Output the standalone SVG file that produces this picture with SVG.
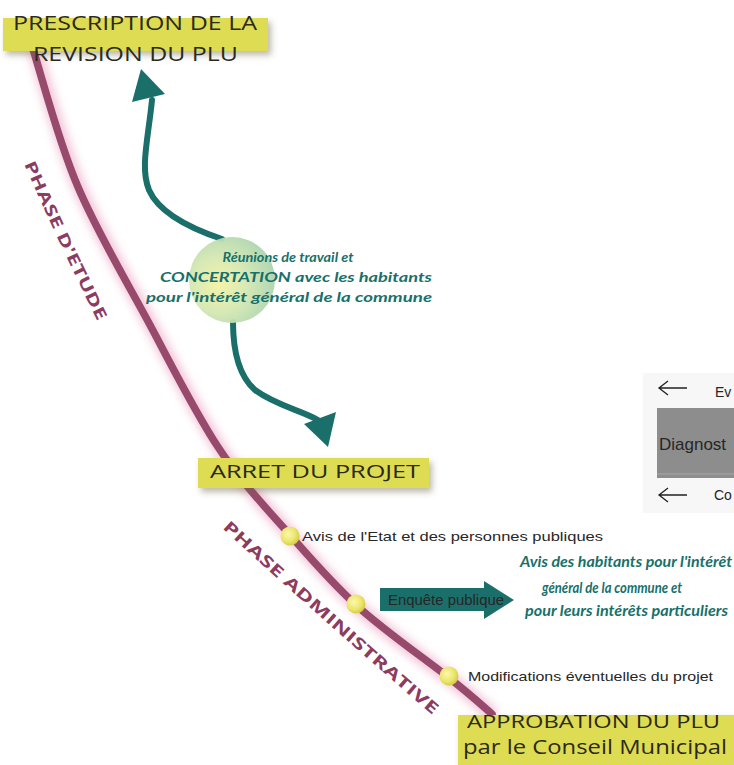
<svg xmlns="http://www.w3.org/2000/svg" width="734" height="765" viewBox="0 0 734 765">
  <defs>
    <style>
      .lbl { fill: #dedc52; filter: url(#shadow); }
      .caps { font-family: "Open Sans", "DejaVu Sans", sans-serif; font-weight: 500; fill: #2b2a1c; }
      .hand { font-family: "Lato", "DejaVu Sans", sans-serif; font-style: italic; font-weight: 700; fill: #17706a; }
      .plain { font-family: "Liberation Sans", Arial, sans-serif; fill: #262626; }
      .phase { font-family: "Open Sans", "DejaVu Sans", sans-serif; font-weight: 700; fill: #8b3c5f; font-size: 16px; }
      .teal { fill: #1b6f6a; }
      .flow { fill: none; stroke: #1b6f6a; stroke-width: 6; stroke-linecap: round; }
      .dot { fill: url(#dotGrad); }
    </style>
    <filter id="shadow" x="-10%" y="-30%" width="125%" height="180%">
      <feDropShadow dx="3" dy="4" stdDeviation="3" flood-color="#6b6040" flood-opacity="0.45"/>
    </filter>
    <filter id="glow" x="-20%" y="-20%" width="140%" height="140%">
      <feGaussianBlur stdDeviation="4"/>
    </filter>
    <radialGradient id="dotGrad" cx="0.4" cy="0.4" r="0.65">
      <stop offset="0" stop-color="#fbf8b0"/>
      <stop offset="0.6" stop-color="#ece66a"/>
      <stop offset="1" stop-color="#cfc846"/>
    </radialGradient>
    <radialGradient id="bubbleGrad" cx="0.35" cy="0.55" r="0.7">
      <stop offset="0" stop-color="#f4f2a4"/>
      <stop offset="0.45" stop-color="#d6e8b2"/>
      <stop offset="1" stop-color="#a6d2b0"/>
    </radialGradient>
    <path id="phase1" d="M24,164 Q60,246 102,330"/>
    <path id="phase2" d="M222,528 Q322,620 436,718"/>
  </defs>

  <rect width="734" height="765" fill="#ffffff"/>

  <!-- partly visible panel at the right edge -->
  <g id="side-panel">
    <rect x="643" y="373" width="91" height="140" fill="#f7f7f7"/>
    <path d="M660,388 H687 M668,381 L659,388 L668,395" fill="none" stroke="#222" stroke-width="1.3"/>
    <text class="plain" x="715" y="397" font-size="14">Ev</text>
    <rect x="657" y="408" width="77" height="70" fill="#8d8d8d"/>
    <line x1="657" y1="474" x2="734" y2="474" stroke="#a8a8a8" stroke-width="1"/>
    <text class="plain" x="659" y="450" font-size="17" fill="#1e1e1e">Diagnost</text>
    <path d="M660,495 H687 M668,488 L659,495 L668,502" fill="none" stroke="#222" stroke-width="1.3"/>
    <text class="plain" x="714" y="500" font-size="14">Co</text>
  </g>

  <!-- timeline -->
  <g id="connectors">
    <path d="M32,46 C40,70 58,141 78,187 C97,232 127,282 150,325 C173,368 195,412 218,447 C241,482 267,509 290,535 C313,561 330,581 356,605 C382,629 425,659 448,677 C471,695 485,708 492,714"
          fill="none" stroke="#f0b8d0" stroke-width="14" opacity="0.8" filter="url(#glow)" transform="translate(2,2)"/>
    <path d="M32,46 C40,70 58,141 78,187 C97,232 127,282 150,325 C173,368 195,412 218,447 C241,482 267,509 290,535 C313,561 330,581 356,605 C382,629 425,659 448,677 C471,695 485,708 492,714"
          fill="none" stroke="#984a6c" stroke-width="7.5" stroke-linecap="round"/>
    <!-- flows out of the meeting bubble -->
    <path class="flow" d="M222,239 C195,230 160,215 149,190 C140,168 148,140 152,100"/>
    <polygon class="teal" points="141,69 132,102 165,94"/>
    <path class="flow" d="M233,322 C233,350 238,375 255,390 C275,405 300,410 318,420"/>
    <polygon class="teal" points="328,447 304,424 336,412"/>
  </g>

  <g id="phase-etude">
    <text class="phase"><textPath href="#phase1" textLength="174" lengthAdjust="spacingAndGlyphs">PHASE D'ETUDE</textPath></text>
  </g>
  <g id="phase-administrative">
    <text class="phase"><textPath href="#phase2" textLength="282" lengthAdjust="spacingAndGlyphs">PHASE ADMINISTRATIVE</textPath></text>
  </g>

  <g id="prescription">
    <rect class="lbl" x="3" y="18" width="265" height="33"/>
    <text class="caps" x="13" y="30" font-size="20" textLength="244" lengthAdjust="spacingAndGlyphs">PRESCRIPTION DE LA</text>
    <text class="caps" x="33" y="61" font-size="20" textLength="205" lengthAdjust="spacingAndGlyphs">REVISION DU PLU</text>
  </g>

  <g id="concertation">
    <circle cx="232" cy="280" r="43" fill="url(#bubbleGrad)" opacity="0.95"/>
    <text class="hand" x="288" y="262" font-size="13" text-anchor="middle" textLength="131" lengthAdjust="spacingAndGlyphs">Réunions de travail et</text>
    <text class="hand" x="296" y="282" font-size="13" text-anchor="middle" textLength="272" lengthAdjust="spacingAndGlyphs">CONCERTATION avec les habitants</text>
    <text class="hand" x="289" y="302" font-size="13" text-anchor="middle" textLength="286" lengthAdjust="spacingAndGlyphs">pour l'intérêt général de la commune</text>
  </g>

  <g id="arret">
    <rect class="lbl" x="198" y="458" width="231" height="30"/>
    <text class="caps" x="210" y="478" font-size="19" textLength="210" lengthAdjust="spacingAndGlyphs">ARRET DU PROJET</text>
  </g>

  <g id="avis-etat">
    <circle class="dot" cx="290" cy="536" r="9.5"/>
    <text class="plain" x="302" y="541" font-size="13.5" textLength="301" lengthAdjust="spacingAndGlyphs">Avis de l'Etat et des personnes publiques</text>
  </g>

  <g id="enquete">
    <circle class="dot" cx="356" cy="604" r="9.5"/>
    <polygon class="teal" points="380,588 484,588 484,581 514,600 484,619 484,611 380,611"/>
    <text class="plain" x="388" y="605" font-size="14" fill="#ffffff" textLength="116" lengthAdjust="spacingAndGlyphs">Enquête publique</text>
    <text class="hand" x="520" y="567" font-size="14.5" textLength="212" lengthAdjust="spacingAndGlyphs">Avis des habitants pour l'intérêt</text>
    <text class="hand" x="612" y="593" font-size="14.5" text-anchor="middle" textLength="140" lengthAdjust="spacingAndGlyphs">général de la commune et</text>
    <text class="hand" x="525" y="616" font-size="14.5" textLength="203" lengthAdjust="spacingAndGlyphs">pour leurs intérêts particuliers</text>
  </g>

  <g id="modifications">
    <circle class="dot" cx="449" cy="676" r="9.5"/>
    <text class="plain" x="468" y="681" font-size="13.5" textLength="245" lengthAdjust="spacingAndGlyphs">Modifications éventuelles du projet</text>
  </g>

  <g id="approbation">
    <rect class="lbl" x="458" y="715" width="280" height="54"/>
    <text class="caps" x="467" y="728" font-size="19" textLength="253" lengthAdjust="spacingAndGlyphs">APPROBATION DU PLU</text>
    <text class="caps" x="463" y="754" font-size="20" textLength="264" lengthAdjust="spacingAndGlyphs">par le Conseil Municipal</text>
  </g>
</svg>
